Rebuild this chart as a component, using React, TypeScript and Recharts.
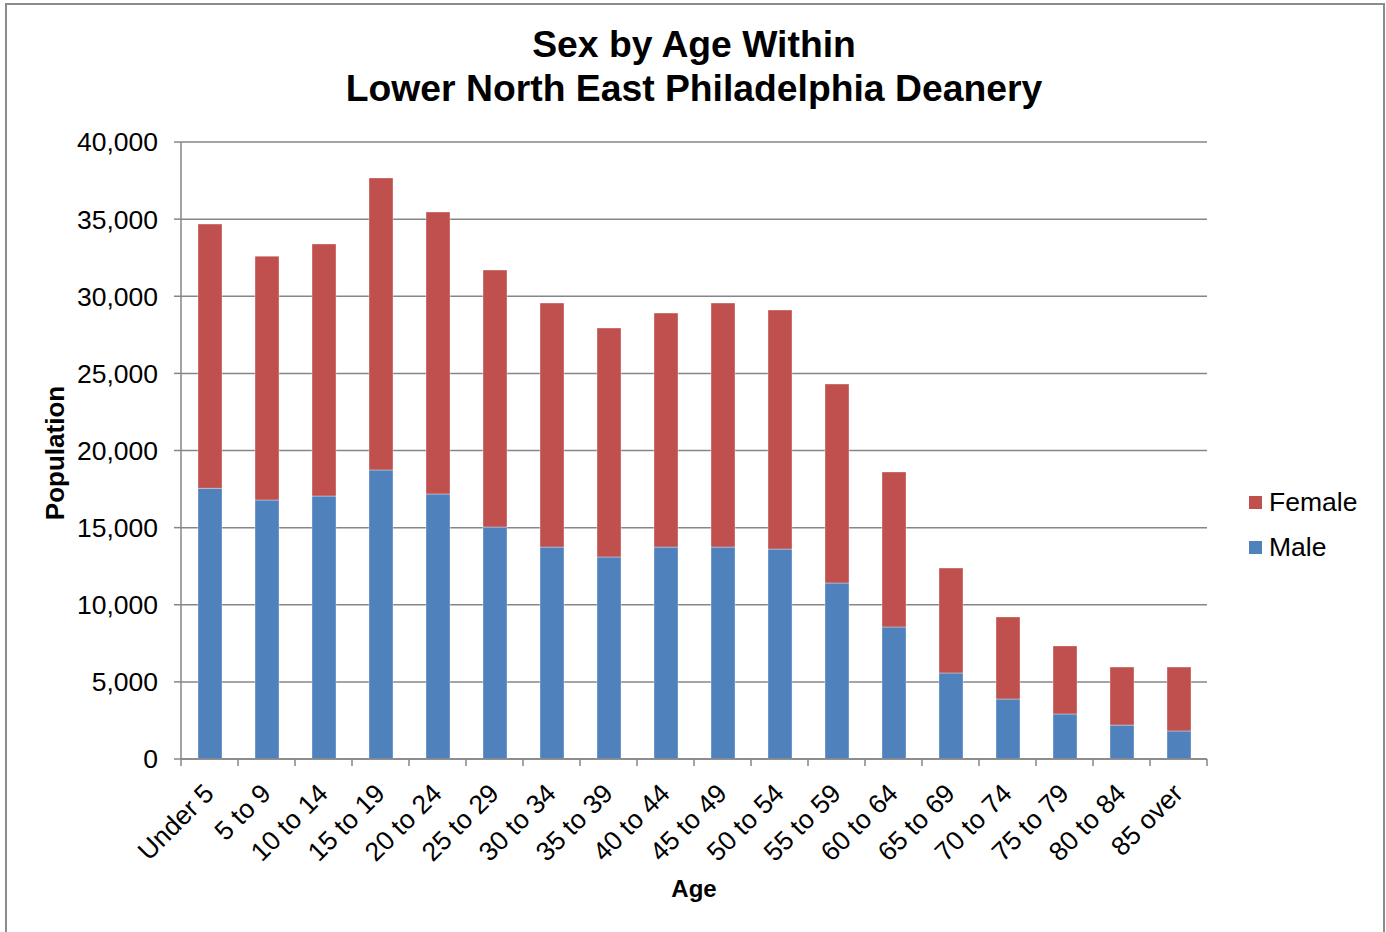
import { BarChart, Bar, XAxis, YAxis, CartesianGrid } from "recharts";

const ageGroups = [
  "Under 5", "5 to 9", "10 to 14", "15 to 19", "20 to 24", "25 to 29",
  "30 to 34", "35 to 39", "40 to 44", "45 to 49", "50 to 54", "55 to 59",
  "60 to 64", "65 to 69", "70 to 74", "75 to 79", "80 to 84", "85 over",
];

const male = [
  17550, 16790, 17050, 18740, 17180, 15040, 13740, 13100, 13740,
  13740, 13610, 11410, 8560, 5580, 3890, 2920, 2200, 1820,
];

const female = [
  17130, 15810, 16340, 18930, 18280, 16660, 15820, 14840, 15170,
  15820, 15500, 12900, 10050, 6800, 5320, 4410, 3760, 4140,
];

const yTicks = [0, 5000, 10000, 15000, 20000, 25000, 30000, 35000, 40000];

const data = ageGroups.map((age, i) => ({ age, Male: male[i], Female: female[i] }));

const FONT = "'Liberation Sans', Arial, Helvetica, sans-serif";
const GRID = "#868686";
const TICK_FONT = 26.5;

function AgeTick(props: any) {
  const { x, y, payload, index } = props;
  const half = payload && payload.offset ? payload.offset : 28.5;
  const last = index === ageGroups.length - 1;
  const tx = x + 6;
  const ty = y + 36;
  return (
    <g>
      <line x1={x - half} x2={x - half} y1={y} y2={y + 7} stroke={GRID} strokeWidth={1.5} />
      {last && <line x1={x + half} x2={x + half} y1={y} y2={y + 7} stroke={GRID} strokeWidth={1.5} />}
      <text
        x={tx}
        y={ty}
        textAnchor="end"
        transform={`rotate(-45 ${tx} ${ty})`}
        fontSize={TICK_FONT}
        fontFamily={FONT}
        fill="#000"
      >
        {payload.value}
      </text>
    </g>
  );
}

function LegendBox() {
  const items = [
    { name: "Female", color: "#C0504D" },
    { name: "Male", color: "#4F81BD" },
  ];
  return (
    <div
      style={{
        position: "absolute",
        left: 1249,
        top: 480,
        fontFamily: FONT,
        fontSize: TICK_FONT,
        color: "#000",
      }}
    >
      {items.map((it) => (
        <div key={it.name} style={{ display: "flex", alignItems: "center", height: 45 }}>
          <span style={{ width: 13, height: 13, background: it.color, marginRight: 7 }} />
          <span>{it.name}</span>
        </div>
      ))}
    </div>
  );
}

export default function App() {
  return (
    <div
      style={{
        position: "absolute",
        left: 0,
        top: 0,
        width: 1386,
        height: 932,
        background: "#fff",
        overflow: "hidden",
        fontFamily: FONT,
      }}
    >
      <div
        style={{
          position: "absolute",
          left: 5,
          top: 3,
          width: 1376,
          height: 960,
          border: "2px solid #8c8c8c",
        }}
      />
      <div
        style={{
          position: "absolute",
          left: 0,
          width: 1388,
          top: 22,
          textAlign: "center",
          fontWeight: "bold",
          fontSize: 37.3,
          lineHeight: "44px",
          color: "#000",
        }}
      >
        Sex by Age Within
        <br />
        Lower North East Philadelphia Deanery
      </div>
      <div
        style={{
          position: "absolute",
          left: 55,
          top: 453,
          transform: "translate(-50%, -50%) rotate(-90deg)",
          fontWeight: "bold",
          fontSize: 26,
          whiteSpace: "nowrap",
          color: "#000",
        }}
      >
        Population
      </div>
      <div
        style={{
          position: "absolute",
          left: 694,
          top: 889,
          transform: "translate(-50%, -50%)",
          fontWeight: "bold",
          fontSize: 24,
          color: "#000",
        }}
      >
        Age
      </div>
      <div style={{ position: "absolute", left: 0, top: 0 }}>
        <BarChart
          width={1386}
          height={932}
          data={data}
          margin={{ top: 142, right: 179, bottom: 0, left: 0 }}
          barCategoryGap={0}
        >
          <CartesianGrid vertical={false} stroke={GRID} strokeWidth={1.5} />
          <XAxis
            dataKey="age"
            interval={0}
            tickLine={false}
            tickSize={0}
            tickMargin={0}
            height={173}
            axisLine={{ stroke: GRID, strokeWidth: 1.5 }}
            tick={<AgeTick />}
          />
          <YAxis
            width={181}
            domain={[0, 40000]}
            ticks={yTicks}
            interval={0}
            tickSize={7}
            tickMargin={16}
            tickLine={{ stroke: GRID, strokeWidth: 1.5 }}
            axisLine={{ stroke: GRID, strokeWidth: 1.5 }}
            tick={{ fontSize: TICK_FONT, fill: "#000", fontFamily: FONT }}
            tickFormatter={(v: number) => v.toLocaleString("en-US")}
          />
          <Bar
            dataKey="Male"
            stackId="a"
            fill="#4F81BD"
            barSize={24}
            stroke="#ffffff"
            strokeOpacity={0.35}
            strokeWidth={1}
            isAnimationActive={false}
          />
          <Bar
            dataKey="Female"
            stackId="a"
            fill="#C0504D"
            barSize={24}
            stroke="#ffffff"
            strokeOpacity={0.35}
            strokeWidth={1}
            isAnimationActive={false}
          />
        </BarChart>
      </div>
      <LegendBox />
    </div>
  );
}
